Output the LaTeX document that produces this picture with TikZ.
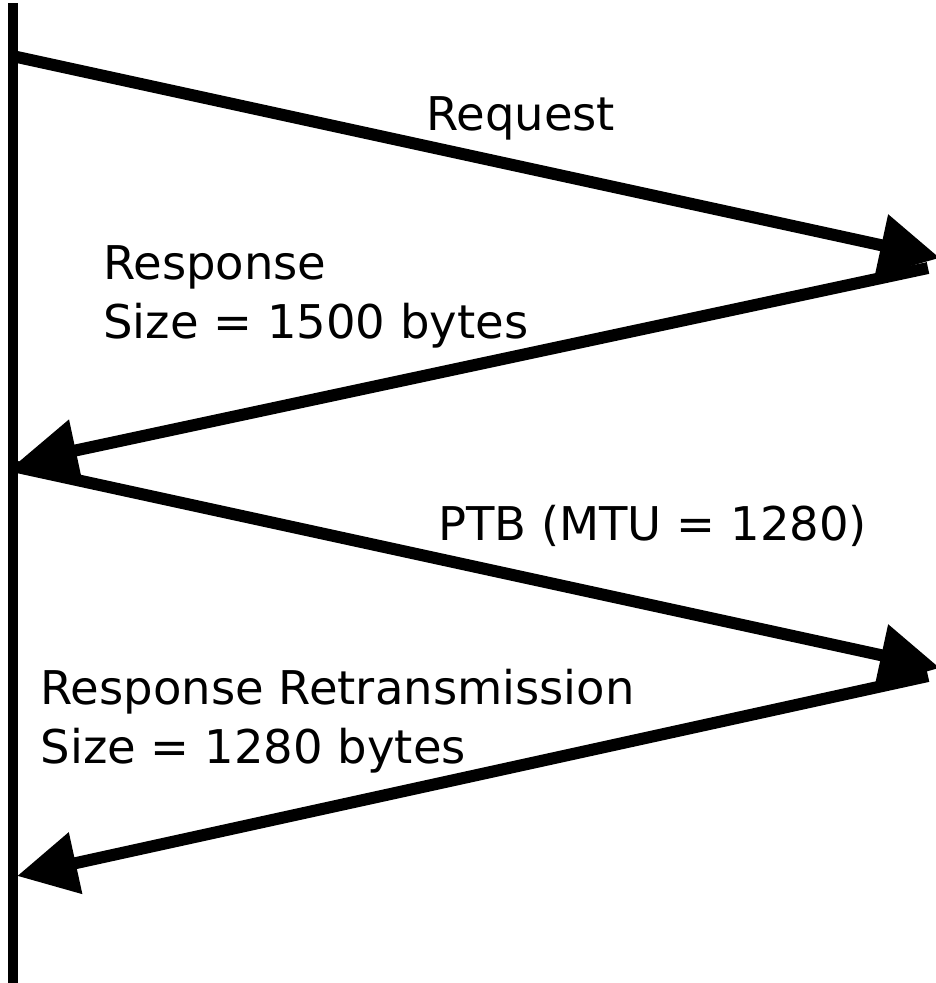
\documentclass[tikz,border=0pt]{standalone}
\usepackage{fontspec}
\setmainfont{DejaVu Sans}
\usetikzlibrary{arrows.meta}

\tikzset{
  lifeline/.style={line width=10pt, line cap=butt},
  msg/.style={line width=12pt, line cap=butt, -{Triangle[length=60pt,width=60pt]}},
  lbl/.style={anchor=base west, inner sep=0pt, font=\fontsize{46.5}{59}\selectfont, align=left},
}

\begin{document}
\begin{tikzpicture}[x=1pt, y=-1pt]
  \useasboundingbox (0,0) rectangle (936,983);

  % lifeline of the client
  \coordinate (top) at (13,3);
  \coordinate (bottom) at (13,983);
  \draw[lifeline] (top) -- (bottom);

  % message end points
  \coordinate (reqS) at (17,57);
  \coordinate (reqE) at (940,258);
  \coordinate (respS) at (928,268);
  \coordinate (respE) at (17,463);
  \coordinate (ptbS) at (17,467);
  \coordinate (ptbE) at (940,668);
  \coordinate (retS) at (928,676);
  \coordinate (retE) at (17,876);

  \draw[msg] (reqS) -- (reqE);
  \draw[msg] (respS) -- (respE);
  \draw[msg] (ptbS) -- (ptbE);
  \draw[msg] (retS) -- (retE);

  % labels (base anchor sits on the last line of a two-line label)
  \node[lbl] (lreq) at (426,130) {Request};
  \node[lbl] (lresp) at (103,338) {Response\\Size = 1500 bytes};
  \node[lbl] (lptb) at (438,540) {PTB (MTU = 1280)};
  \node[lbl] (lret) at (40.5,763) {Response Retransmission\\Size = 1280 bytes};
\end{tikzpicture}
\end{document}
